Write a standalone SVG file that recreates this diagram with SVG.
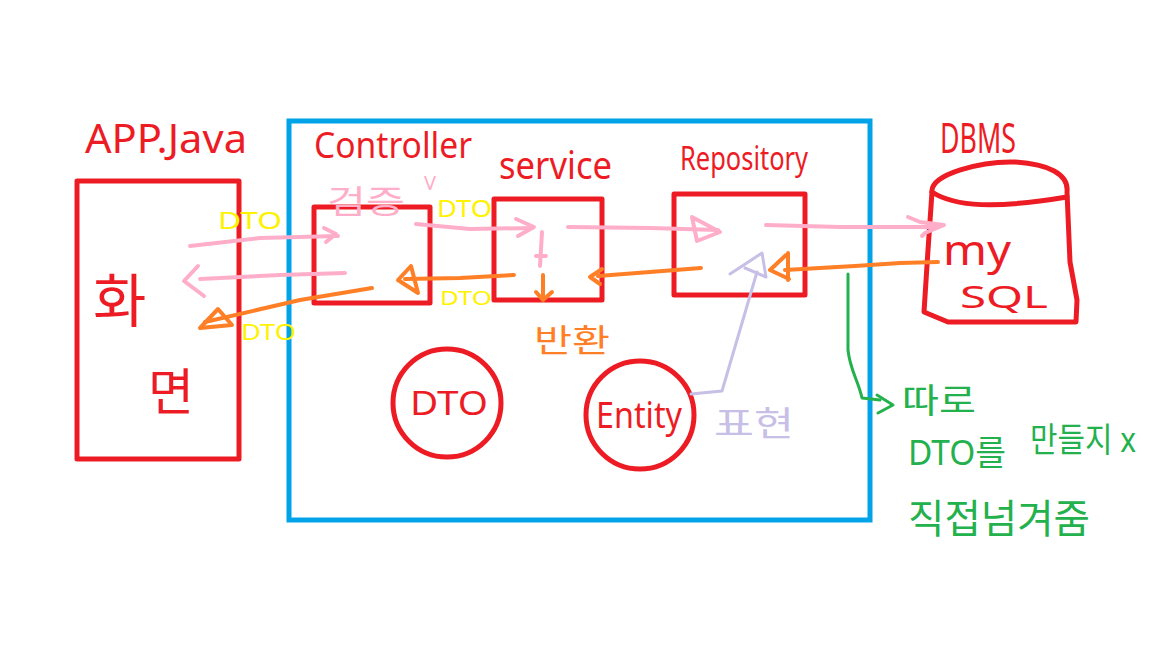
<svg xmlns="http://www.w3.org/2000/svg" width="1152" height="648" viewBox="0 0 1152 648">
<style>
.red{fill:none;stroke:#ED1C24;stroke-width:5;stroke-linejoin:round;stroke-linecap:round}
.blue{fill:none;stroke:#00A2E8;stroke-width:5}
.pk{fill:none;stroke:#FFAEC9;stroke-width:4;stroke-linecap:round;stroke-linejoin:round}
.or{fill:none;stroke:#FF7F27;stroke-width:4;stroke-linecap:round;stroke-linejoin:round}
.lv{fill:none;stroke:#C8BFE7;stroke-width:3;stroke-linecap:round;stroke-linejoin:round}
.gr{fill:none;stroke:#22B14C;stroke-width:3;stroke-linecap:round;stroke-linejoin:round}
text{font-family:"Noto Sans","Noto Sans CJK KR",sans-serif}
.tr{fill:#ED1C24}
.ty{fill:#FFF200}
.tp{fill:#FFAEC9}
.to{fill:#FF7F27}
.tl{fill:#C8BFE7}
.tg{fill:#22B14C}
</style>
<rect width="1152" height="648" fill="#ffffff"/>
<g id="container">
<rect class="blue" x="289" y="121" width="581" height="399"/>
</g>
<g id="app-java">
<rect class="red" x="77" y="181" width="162" height="278"/>
<text class="tr" x="85" y="153" font-size="40" textLength="162" lengthAdjust="spacingAndGlyphs">APP.Java</text>
<text class="tr" x="93" y="322" font-size="58">화</text>
<text class="tr" x="148" y="410" font-size="50">면</text>
</g>
<g id="controller">
<rect class="red" x="314" y="207" width="116" height="96"/>
<text class="tr" x="314" y="158" font-size="36" textLength="158" lengthAdjust="spacingAndGlyphs">Controller</text>
</g>
<g id="service">
<rect class="red" x="494" y="199" width="108" height="101"/>
<text class="tr" x="499" y="179" font-size="38" textLength="113" lengthAdjust="spacingAndGlyphs">service</text>
</g>
<g id="repository">
<rect class="red" x="674" y="194" width="131" height="101"/>
<text class="tr" x="680" y="170" font-size="32" textLength="128" lengthAdjust="spacingAndGlyphs">Repository</text>
</g>
<g id="dbms">
<path class="red" d="M932,192 C930,174 982,161 1015,162 C1048,164 1069,174 1067,192 L1070,262 L1077,300 L1076,322 L948,322 L924,312 L928,250 Z"/>
<path class="red" d="M932,192 C955,207 995,209 1067,197"/>
<text class="tr" x="940" y="153" font-size="42" textLength="76" lengthAdjust="spacingAndGlyphs">DBMS</text>
<text class="tr" x="943" y="265" font-size="42" textLength="68" lengthAdjust="spacingAndGlyphs">my</text>
<text class="tr" x="960" y="308" font-size="30" textLength="88" lengthAdjust="spacingAndGlyphs">SQL</text>
</g>
<g id="dto-circle">
<circle class="red" cx="447" cy="403" r="54"/>
<text class="tr" x="410" y="415" font-size="32" textLength="78" lengthAdjust="spacingAndGlyphs">DTO</text>
</g>
<g id="entity-circle">
<circle class="red" cx="640" cy="415" r="54"/>
<text class="tr" x="596" y="428" font-size="36" textLength="86" lengthAdjust="spacingAndGlyphs">Entity</text>
</g>
<g id="connectors">
<path class="pk" d="M190,246 L260,238 L338,236"/>
<path class="pk" d="M324,228 L336,234 L326,242"/>
<path class="pk" d="M345,273 L280,275 L200,279"/>
<path class="pk" d="M198,266 L184,281 L204,296"/>
<path class="pk" d="M416,224 L470,229 L532,228"/>
<path class="pk" d="M516,219 L534,227 L518,236"/>
<path class="pk" d="M542,232 L540,266 M536,256 L546,256"/>
<path class="pk" d="M568,227 L650,228 L718,230"/>
<path class="pk" d="M692,217 L720,232 L697,241 Z"/>
<path class="pk" d="M766,225 L840,227 L935,227"/>
<path class="pk" d="M908,217 L920,222 L944,225 L925,233 L922,236"/>
<path class="or" d="M514,275 L460,278 L405,279"/>
<path class="or" d="M411,266 L398,280 L418,293 Z"/>
<path class="or" d="M372,288 L300,300 L205,322"/>
<path class="or" d="M218,309 L200,328 L232,325 Z"/>
<path class="or" d="M543,275 L543,300 M536,292 L543,300 L552,292"/>
<path class="or" d="M701,268 L650,272 L598,276"/>
<path class="or" d="M602,269 L590,277 L600,284"/>
<path class="or" d="M938,262 L900,263 L855,266 L785,270"/>
<path class="or" d="M786,255 L770,270 L789,279 M788,253 L788,280"/>
<path class="lv" d="M691,394 L722,391 L757,272"/>
<path class="lv" d="M730,274 L762,253 L766,277 M745,268 L766,277"/>
<path class="gr" d="M848,274 L848,350 C850,370 858,380 862,398 L880,400"/>
<path class="gr" d="M877,395 L893,405 L878,413"/>
</g>
<g id="labels">
<text class="ty" x="218" y="229" font-size="24" textLength="64" lengthAdjust="spacingAndGlyphs">DTO</text>
<text class="ty" x="437" y="217" font-size="24" textLength="55" lengthAdjust="spacingAndGlyphs">DTO</text>
<text class="ty" x="440" y="305" font-size="20" textLength="52" lengthAdjust="spacingAndGlyphs">DTO</text>
<text class="ty" x="241" y="340" font-size="22" textLength="55" lengthAdjust="spacingAndGlyphs">DTO</text>
<text class="tp" x="327" y="213" font-size="32" textLength="78" lengthAdjust="spacingAndGlyphs">검증</text>
<text class="tp" x="424" y="190" font-size="20">V</text>
<text class="to" x="534" y="352" font-size="32" textLength="76" lengthAdjust="spacingAndGlyphs">반환</text>
<text class="tl" x="714" y="436" font-size="34" textLength="80" lengthAdjust="spacingAndGlyphs">표현</text>
<text class="tg" x="902" y="413" font-size="34" textLength="74" lengthAdjust="spacingAndGlyphs">따로</text>
<text class="tg" x="908" y="465" font-size="34" textLength="98" lengthAdjust="spacingAndGlyphs">DTO를</text>
<text class="tg" x="1030" y="452" font-size="34" textLength="106" lengthAdjust="spacingAndGlyphs">만들지 x</text>
<text class="tg" x="908" y="533" font-size="40" textLength="182" lengthAdjust="spacingAndGlyphs">직접넘겨줌</text>
</g>
</svg>
